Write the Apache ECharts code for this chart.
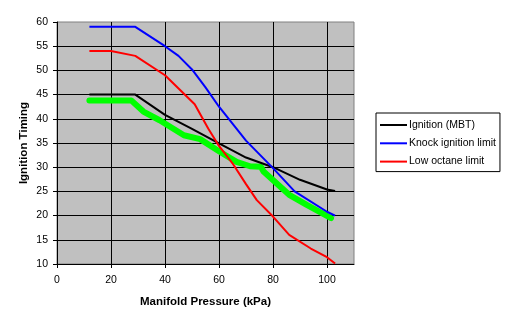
<!DOCTYPE html>
<html>
<head>
<meta charset="utf-8">
<script src="https://cdn.jsdelivr.net/npm/echarts@6/dist/echarts.min.js"></script>
<style>html,body{margin:0;padding:0;background:#fff;}#c{width:507px;height:325px;}</style>
</head>
<body>
<div id="c"></div>
<script>
// Data
const mbtX = [12, 29, 40, 50, 60, 70, 80, 90, 100, 103];
const mbtY = [45, 45, 40.8, 37.9, 34.9, 32.0, 30.0, 27.4, 25.4, 25.1];
const knockX = [12, 29, 40, 45, 50, 55, 60, 70, 80, 88, 100, 103];
const knockY = [59, 59, 55, 53, 50.2, 46.5, 42.5, 35.5, 29.8, 25, 20.8, 20];
const lowX = [12, 20, 29, 40, 51, 56, 60, 65, 70, 74, 80, 86, 94, 100, 103];
const lowY = [54, 54, 53, 49, 43, 38, 34.4, 30.8, 26.5, 23.2, 19.8, 16, 13.2, 11.4, 10.1];
const greenX = [12, 27.5, 32, 38, 47, 53, 60, 66.5, 71.5, 75.5, 76.5, 86, 92.5, 101.5];
const greenY = [43.8, 43.8, 41.5, 39.7, 36.6, 35.8, 33.3, 31.1, 30.2, 30.1, 29.1, 24.3, 22.2, 19.5];
const seriesNames = ['Ignition (MBT)', 'Knock ignition limit', 'Low octane limit'];
const xTitle = 'Manifold Pressure (kPa)';
const yTitle = 'Ignition Timing';

function pairs(xs, ys) { return xs.map((x, i) => [x, ys[i]]); }

const font = '"Liberation Sans", Arial, sans-serif';
const chart = echarts.init(document.getElementById('c'), null, {renderer: 'canvas'});
chart.setOption({
  animation: false,
  backgroundColor: '#ffffff',
  textStyle: {fontFamily: font},
  grid: {left: 57, top: 22, width: 297, height: 242, show: true,
         backgroundColor: '#c0c0c0', borderColor: '#808080', borderWidth: 1},
  legend: {
    orient: 'vertical', left: 376, top: 113,
    data: seriesNames,
    icon: 'rect', itemWidth: 27, itemHeight: 2, itemGap: 6.3,
    backgroundColor: '#ffffff', borderColor: '#000000', borderWidth: 1,
    padding: [6, 4, 4, 4],
    textStyle: {fontFamily: font, fontSize: 10.5, color: '#000', padding: [0, 0, 0, -3], lineHeight: 12}
  },
  xAxis: {
    type: 'value', min: 0, max: 110, interval: 20,
    name: xTitle, nameLocation: 'middle', nameGap: 32, nameMoveOverlap: false,
    nameTextStyle: {fontFamily: font, fontSize: 11.5, fontWeight: 'bold', color: '#000'},
    axisLine: {show: true, onZero: false, lineStyle: {color: '#000', width: 1}},
    axisTick: {show: true, length: 4, lineStyle: {color: '#000'}},
    axisLabel: {fontFamily: font, fontSize: 10.5, color: '#000', margin: 11, showMaxLabel: false},
    splitLine: {show: true, showMaxLine: false, lineStyle: {color: '#000', width: 1}}
  },
  yAxis: {
    type: 'value', min: 10, max: 60, interval: 5,
    name: yTitle, nameLocation: 'middle', nameGap: 27, nameMoveOverlap: false,
    nameTextStyle: {fontFamily: font, fontSize: 11.5, fontWeight: 'bold', color: '#000'},
    axisLine: {show: true, lineStyle: {color: '#000', width: 1}},
    axisTick: {show: true, length: 4, lineStyle: {color: '#000'}},
    axisLabel: {fontFamily: font, fontSize: 10.5, color: '#000', margin: 9},
    splitLine: {show: true, showMaxLine: false, lineStyle: {color: '#000', width: 1}}
  },
  series: [
    {name: 'green', type: 'line', data: pairs(greenX, greenY), showSymbol: false, symbol: 'none',
     lineStyle: {color: '#00ff00', width: 6, cap: 'round', join: 'round'}, itemStyle: {color: '#00ff00'}, z: 2},
    {name: seriesNames[0], type: 'line', data: pairs(mbtX, mbtY), symbol: 'none',
     lineStyle: {color: '#000000', width: 2}, itemStyle: {color: '#000000'}, z: 3},
    {name: seriesNames[1], type: 'line', data: pairs(knockX, knockY), symbol: 'none',
     lineStyle: {color: '#0000ff', width: 2}, itemStyle: {color: '#0000ff'}, z: 3},
    {name: seriesNames[2], type: 'line', data: pairs(lowX, lowY), symbol: 'none',
     lineStyle: {color: '#ff0000', width: 2}, itemStyle: {color: '#ff0000'}, z: 3}
  ]
});
</script>
</body>
</html>
